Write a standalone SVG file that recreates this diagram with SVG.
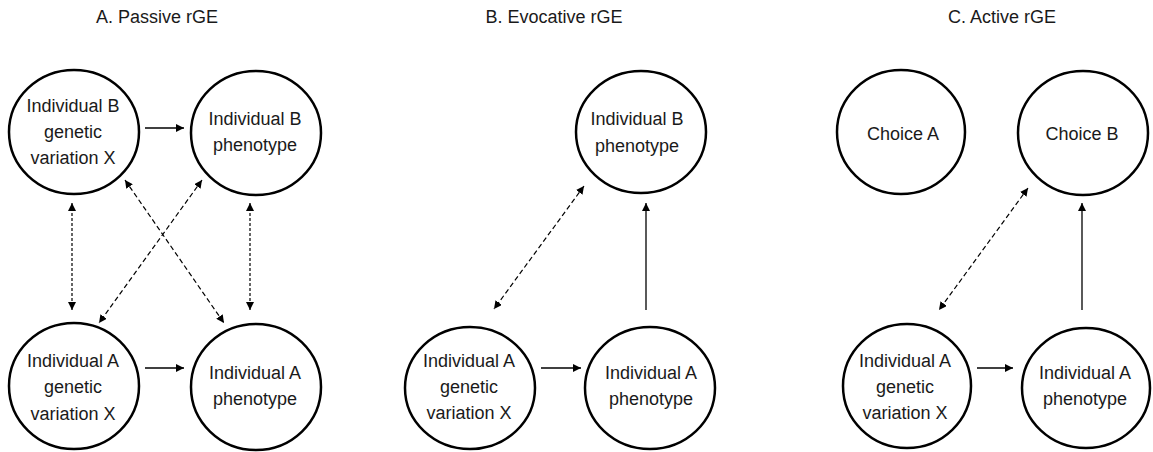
<svg xmlns="http://www.w3.org/2000/svg" width="1153" height="452" viewBox="0 0 1153 452">
<style>
.n{fill:#fff;stroke:#000;stroke-width:2.5}
text{font-family:"Liberation Sans",Arial,sans-serif;font-size:18px;fill:#1a1a1a;text-anchor:middle}
.s{fill:none;stroke:#000;stroke-width:1.3}
.d{fill:none;stroke:#000;stroke-width:1.2;stroke-dasharray:5 3}
.v{fill:none;stroke:#000;stroke-width:1.2;stroke-dasharray:3 2}
</style>
<defs>
<marker id="ah" viewBox="0 0 10 10" refX="10" refY="5" markerWidth="8" markerHeight="8" markerUnits="userSpaceOnUse" orient="auto-start-reverse">
<path d="M0,0 L10,5 L0,10 z" fill="#000"/>
</marker>
</defs>
<rect width="1153" height="452" fill="#fff"/>
<text x="157" y="23">A. Passive rGE</text>
<text x="554" y="23">B. Evocative rGE</text>
<text x="1002" y="23">C. Active rGE</text>

<g id="a-bgen"><ellipse class="n" cx="74" cy="132" rx="65" ry="62"/><text x="73" y="112">Individual B</text><text x="73" y="138">genetic</text><text x="73" y="164">variation X</text></g>
<g id="a-bphen"><ellipse class="n" cx="256" cy="133" rx="65" ry="62"/><text x="255" y="125">Individual B</text><text x="255" y="151">phenotype</text></g>
<g id="a-agen"><ellipse class="n" cx="74" cy="386" rx="65" ry="63"/><text x="73" y="367">Individual A</text><text x="73" y="393">genetic</text><text x="73" y="420">variation X</text></g>
<g id="a-aphen"><ellipse class="n" cx="256" cy="387" rx="65" ry="63"/><text x="255" y="379">Individual A</text><text x="255" y="405">phenotype</text></g>

<g id="b-bphen"><ellipse class="n" cx="641" cy="132" rx="65" ry="61"/><text x="637" y="125">Individual B</text><text x="637" y="152">phenotype</text></g>
<g id="b-agen"><ellipse class="n" cx="470" cy="388" rx="65" ry="61"/><text x="469" y="367">Individual A</text><text x="469" y="393">genetic</text><text x="469" y="419">variation X</text></g>
<g id="b-aphen"><ellipse class="n" cx="650" cy="388" rx="65" ry="61"/><text x="651" y="379">Individual A</text><text x="651" y="405">phenotype</text></g>

<g id="c-choicea"><ellipse class="n" cx="901" cy="132" rx="64" ry="62"/><text x="903" y="140">Choice A</text></g>
<g id="c-choiceb"><ellipse class="n" cx="1083" cy="133" rx="65" ry="62"/><text x="1082" y="140">Choice B</text></g>
<g id="c-agen"><ellipse class="n" cx="907" cy="386" rx="64" ry="62"/><text x="905" y="367">Individual A</text><text x="905" y="393">genetic</text><text x="905" y="419">variation X</text></g>
<g id="c-aphen"><ellipse class="n" cx="1086" cy="388" rx="64" ry="60"/><text x="1085" y="379">Individual A</text><text x="1085" y="405">phenotype</text></g>

<g id="connectors">
<line class="s" x1="145" y1="128" x2="184" y2="128" marker-end="url(#ah)"/>
<line class="s" x1="145" y1="368" x2="184" y2="368" marker-end="url(#ah)"/>
<line class="v" x1="72" y1="203" x2="72" y2="310" marker-start="url(#ah)" marker-end="url(#ah)"/>
<line class="v" x1="250" y1="203" x2="250" y2="310" marker-start="url(#ah)" marker-end="url(#ah)"/>
<line class="d" x1="125" y1="180" x2="224" y2="323" marker-start="url(#ah)" marker-end="url(#ah)"/>
<line class="d" x1="202" y1="180" x2="99" y2="323" marker-start="url(#ah)" marker-end="url(#ah)"/>

<line class="s" x1="541" y1="368" x2="581" y2="368" marker-end="url(#ah)"/>
<line class="s" x1="646" y1="310" x2="646" y2="203" marker-end="url(#ah)"/>
<line class="d" x1="584" y1="186" x2="494" y2="309" marker-start="url(#ah)" marker-end="url(#ah)"/>

<line class="s" x1="977" y1="368" x2="1013" y2="368" marker-end="url(#ah)"/>
<line class="s" x1="1082" y1="310" x2="1082" y2="203" marker-end="url(#ah)"/>
<line class="d" x1="1028" y1="188" x2="939" y2="310" marker-start="url(#ah)" marker-end="url(#ah)"/>
</g>
</svg>
